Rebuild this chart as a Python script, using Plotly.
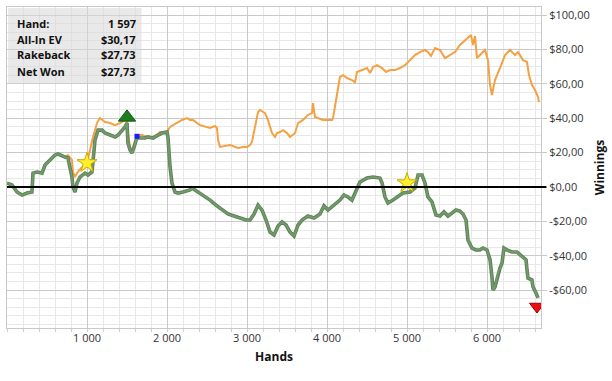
import plotly.graph_objects as go

# ---------------- data ----------------
net_hands = [0, 62, 125, 188, 250, 312, 325, 375, 438, 475, 538, 600, 638, 688, 725, 762, 788, 812, 825, 850, 875,
             912, 975, 1012, 1062, 1075, 1100, 1138, 1188, 1225, 1288, 1350, 1388, 1438, 1475, 1500, 1512, 1538,
             1562, 1588, 1625, 1662, 1725, 1762, 1825, 1888, 1938, 2000, 2012, 2038, 2062, 2100, 2138, 2200, 2288,
             2312, 2388, 2462, 2538, 2612, 2688, 2762, 2838, 2912, 2988, 3038, 3088, 3138, 3188, 3238, 3288, 3338,
             3388, 3438, 3488, 3538, 3588, 3638, 3688, 3762, 3838, 3912, 3962, 4012, 4088, 4162, 4212, 4262, 4312,
             4362, 4412, 4500, 4575, 4662, 4688, 4725, 4762, 4825, 4875, 4950, 5038, 5100, 5138, 5188, 5225, 5262,
             5312, 5362, 5412, 5462, 5512, 5562, 5612, 5662, 5700, 5738, 5762, 5812, 5862, 5912, 5950, 6000, 6038,
             6062, 6075, 6100, 6138, 6162, 6188, 6212, 6250, 6312, 6375, 6412, 6450, 6488, 6500, 6512, 6562, 6575,
             6612, 6638]
net_won = [2.3, 1.2, -2.9, -4.7, -3.5, -2.9, 8.1, 8.7, 8.1, 12.8, 15.7, 18.6, 19.2, 18.0, 17.4, 16.9, 11.6, 5.8,
           0.0, -2.9, 2.3, 5.8, 8.1, 7.0, 8.7, 17.4, 27.3, 33.1, 33.1, 31.4, 30.2, 29.1, 30.2, 33.1, 34.9, 37.2,
           25.6, 21.5, 19.8, 23.3, 29.1, 28.5, 28.5, 29.1, 28.5, 30.2, 31.4, 32.0, 29.1, 11.6, 2.3, -2.9, -3.5,
           -2.9, -1.7, -0.6, -2.9, -5.2, -7.6, -10.5, -13.4, -15.7, -16.9, -18.0, -19.2, -19.2, -15.7, -10.5,
           -13.4, -19.2, -26.2, -27.9, -22.7, -20.3, -22.1, -26.2, -28.5, -22.1, -19.2, -16.9, -18.0, -15.7,
           -11.0, -13.4, -10.5, -7.6, -4.7, -5.8, -7.6, -2.9, 2.9, 5.2, 5.8, 5.2, 2.3, -5.8, -9.3, -7.6, -5.8,
           -3.5, -2.9, -0.6, 7.0, 7.0, 2.3, -5.8, -8.7, -16.3, -16.9, -14.5, -16.9, -15.1, -13.4, -14.0, -15.7,
           -19.2, -30.8, -35.5, -36.6, -36.6, -35.5, -36.6, -42.4, -52.3, -59.9, -58.1, -50.0, -47.1, -44.2,
           -35.5, -36.6, -37.8, -37.8, -39.5, -41.3, -42.4, -48.3, -52.9, -54.1, -58.1, -61.6, -64.5]

ev_hands = [0, 62, 125, 188, 250, 312, 325, 375, 438, 475, 538, 600, 638, 688, 725, 762, 812, 825, 850, 875, 925,
            1000, 1075, 1125, 1162, 1225, 1288, 1350, 1412, 1475, 1500, 1512, 1538, 1562, 1600, 1625, 1688, 1750,
            1812, 1875, 1912, 2000, 2038, 2075, 2138, 2188, 2250, 2288, 2325, 2412, 2538, 2600, 2625, 2638, 2662,
            2725, 2788, 2888, 2950, 3000, 3038, 3062, 3100, 3138, 3162, 3225, 3262, 3312, 3350, 3375, 3412, 3450,
            3500, 3538, 3600, 3638, 3700, 3762, 3812, 3825, 3850, 3888, 3950, 4000, 4062, 4075, 4125, 4162, 4200,
            4250, 4312, 4350, 4375, 4438, 4500, 4538, 4575, 4625, 4688, 4738, 4788, 4850, 4912, 4975, 5038, 5100,
            5162, 5225, 5262, 5300, 5350, 5412, 5475, 5538, 5600, 5662, 5725, 5762, 5800, 5825, 5850, 5875, 5912,
            5975, 6012, 6038, 6062, 6100, 6162, 6225, 6288, 6350, 6388, 6450, 6500, 6525, 6562, 6600, 6638, 6650]
all_in_ev = [2.3, 1.2, -2.9, -4.7, -3.5, -2.9, 8.1, 8.7, 8.1, 12.8, 15.7, 18.6, 19.2, 18.0, 17.4, 18.6, 15.7,
             8.7, 5.8, 8.1, 11.0, 14.0, 29.1, 37.2, 40.1, 37.8, 37.2, 36.0, 37.2, 39.0, 40.1, 31.4, 23.3, 19.8,
             23.3, 30.2, 30.2, 29.1, 29.1, 30.2, 32.0, 32.0, 34.9, 36.0, 37.8, 39.0, 40.1, 39.0, 39.0, 36.0,
             34.3, 35.5, 34.3, 27.3, 23.3, 23.8, 24.4, 22.7, 23.3, 23.3, 24.4, 26.2, 34.9, 43.6, 44.8, 43.0,
             39.0, 31.4, 29.1, 31.4, 32.0, 33.1, 31.4, 29.1, 31.4, 37.2, 39.0, 41.9, 43.0, 48.8, 40.7, 40.1,
             39.0, 39.0, 39.0, 40.1, 54.7, 64.0, 65.1, 63.4, 62.2, 61.0, 66.9, 68.0, 69.2, 66.3, 69.8, 70.9,
             69.2, 66.9, 68.0, 68.0, 69.2, 70.9, 73.8, 76.7, 78.5, 79.7, 78.5, 76.2, 80.8, 79.7, 75.0, 76.7,
             78.5, 82.6, 85.5, 86.6, 88.4, 82.6, 87.8, 75.0, 76.7, 79.7, 73.8, 59.3, 53.5, 62.2, 69.2, 76.7,
             79.7, 76.7, 78.5, 73.8, 72.7, 65.1, 59.3, 56.4, 52.3, 49.4]

star_hands = [1000, 5000]
star_values = [14.0, 2.3]
up_hand, up_value = [1500], [40.5]
blue_hand, blue_value = [1625], [29.5]
down_hand, down_value = [6625], [-69.5]

y_ticks = [100, 80, 60, 40, 20, 0, -20, -40, -60]
y_tick_text = ["$100,00", "$80,00", "$60,00", "$40,00", "$20,00", "$0,00", "-$20,00", "-$40,00", "-$60,00"]
x_ticks = [1000, 2000, 3000, 4000, 5000, 6000]
x_tick_text = ["1 000", "2 000", "3 000", "4 000", "5 000", "6 000"]

info_labels = ["Hand:", "All-In EV", "Rakeback", "Net Won"]
info_values = ["1 597", "$30,17", "$27,73", "$27,73"]

# ---------------- figure ----------------
FONT = "Open Sans"
fig = go.Figure()

fig.add_trace(go.Scatter(x=ev_hands, y=all_in_ev, mode="lines",
                         line=dict(color="#f5a043", width=2), hoverinfo="skip"))
fig.add_trace(go.Scatter(x=net_hands, y=net_won, mode="lines",
                         line=dict(color="#5f7f5c", width=3.6), hoverinfo="skip"))
fig.add_trace(go.Scatter(x=net_hands, y=net_won, mode="lines",
                         line=dict(color="#719c68", width=1.8), hoverinfo="skip"))

fig.add_trace(go.Scatter(x=star_hands, y=star_values, mode="markers",
                         marker=dict(symbol="star", size=15, color="#ffef2a",
                                     line=dict(color="#c8a800", width=1))))
fig.add_trace(go.Scatter(x=up_hand, y=up_value, mode="markers",
                         marker=dict(symbol="triangle-up", size=15, color="#1e7d1e",
                                     line=dict(color="#0f5a0f", width=1))))
fig.add_trace(go.Scatter(x=blue_hand, y=blue_value, mode="markers",
                         marker=dict(symbol="square", size=5, color="#1a1aff")))
fig.add_trace(go.Scatter(x=down_hand, y=down_value, mode="markers",
                         marker=dict(symbol="triangle-down", size=13, color="#e81010",
                                     line=dict(color="#a00000", width=1))))

fig.update_layout(
    width=612, height=381,
    margin=dict(l=7, r=71, t=7, b=53),
    paper_bgcolor="white", plot_bgcolor="white",
    showlegend=False,
    font=dict(family=FONT, size=11, color="#222222"),
)

fig.update_xaxes(
    range=[0, 6675],
    tickvals=x_ticks, ticktext=x_tick_text,
    showgrid=True, gridcolor="#c9c9c9", gridwidth=1,
    minor=dict(dtick=200, tick0=0, showgrid=True, gridcolor="#e8e8e8",
               ticks="outside", ticklen=3, tickcolor="#cfcfcf"),
    ticks="", zeroline=False,
    showline=True, linecolor="#c9c9c9", mirror=True,
    title=dict(text="<b>Hands</b>", font=dict(size=12, color="#111111"), standoff=8),
    tickfont=dict(size=11, color="#333333"),
)

fig.update_yaxes(
    range=[-82, 104.7], side="right",
    tickvals=y_ticks, ticktext=y_tick_text,
    showgrid=True, gridcolor="#c9c9c9", gridwidth=1,
    minor=dict(dtick=5, tick0=0, showgrid=True, gridcolor="#e8e8e8"),
    ticks="outside", ticklen=5, tickcolor="#c9c9c9",
    zeroline=False,
    showline=True, linecolor="#c9c9c9", mirror=True,
    title=dict(text="<b>Winnings</b>", font=dict(size=12, color="#111111"), standoff=6),
    tickfont=dict(size=11, color="#333333"),
)

# zero line
fig.add_shape(type="line", xref="paper", yref="y", x0=0, x1=1.01, y0=0, y1=0,
              line=dict(color="black", width=2), layer="above")

# info box
fig.add_shape(type="rect", xref="paper", yref="paper", x0=0.002, x1=0.252, y0=0.762, y1=0.997,
              fillcolor="rgba(215,215,215,0.55)", line=dict(width=0), layer="above")
row_y = [0.950, 0.900, 0.853, 0.800]
for lab, val, yy in zip(info_labels, info_values, row_y):
    fig.add_annotation(xref="paper", yref="paper", x=0.015, y=yy, text="<b>" + lab + "</b>",
                       showarrow=False, xanchor="left", yanchor="middle",
                       font=dict(size=11, color="#111111", family=FONT))
    fig.add_annotation(xref="paper", yref="paper", x=0.246, y=yy, text="<b>" + val + "</b>",
                       showarrow=False, xanchor="right", yanchor="middle",
                       font=dict(size=11, color="#111111", family=FONT))

fig.write_html("out.html")
